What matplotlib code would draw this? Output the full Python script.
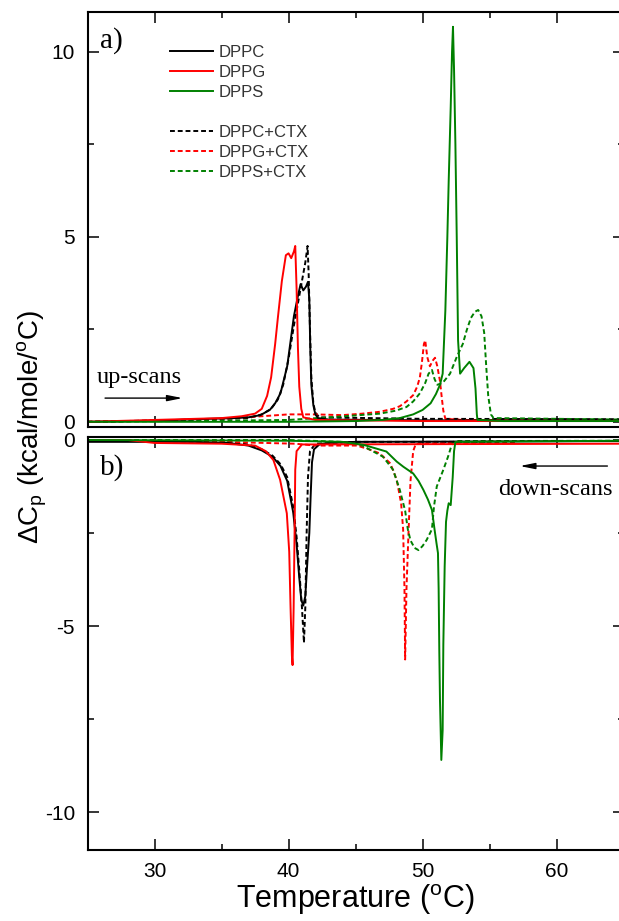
import matplotlib
matplotlib.use('Agg')
import matplotlib.pyplot as plt
from matplotlib.lines import Line2D
from matplotlib.ticker import MultipleLocator

plt.rcParams['font.family'] = ['Liberation Sans', 'DejaVu Sans']
plt.rcParams['mathtext.fontset'] = 'custom'
plt.rcParams['mathtext.rm'] = 'Liberation Sans'
plt.rcParams['mathtext.default'] = 'regular'
plt.rcParams['axes.unicode_minus'] = False

# ---- up-scans (panel a) ----
t_dppc_up = [25, 30, 34, 36, 37, 37.9, 38.6, 39.0, 39.4, 39.9, 40.4, 40.7, 40.9, 41.1, 41.3,
             41.45, 41.55, 41.62, 41.7, 41.85, 42.0, 42.2, 43, 50, 65]
cp_dppc_up = [0.0, 0.03, 0.08, 0.1, 0.12, 0.18, 0.32, 0.5, 0.77, 1.5, 2.85, 3.4, 3.72, 3.55, 3.65,
              3.78, 3.3, 2.0, 1.0, 0.45, 0.2, 0.1, 0.06, 0.04, 0.03]

t_dppg_up = [25, 30, 33, 35, 36.5, 37.5, 38.0, 38.4, 38.7, 39.0, 39.2, 39.5, 39.8, 40.0, 40.2,
             40.4, 40.5, 40.6, 40.7, 40.8, 40.95, 41.1, 42, 50, 65]
cp_dppg_up = [0.0, 0.05, 0.08, 0.1, 0.15, 0.22, 0.35, 0.7, 1.2, 2.1, 2.8, 3.8, 4.5, 4.55, 4.42,
              4.6, 4.75, 3.6, 2.0, 0.95, 0.35, 0.12, 0.05, 0.02, 0.02]

t_dpps_up = [25, 40, 45, 47, 48.3, 49.3, 50.0, 50.6, 51.0, 51.3, 51.5, 51.7, 51.85, 51.95, 52.1,
             52.2, 52.27, 52.35, 52.45, 52.55, 52.65, 52.8, 53.1, 53.5, 53.8, 53.95, 54.05, 54.1, 56, 65]
cp_dpps_up = [0.0, 0.0, 0.02, 0.05, 0.1, 0.2, 0.32, 0.5, 0.75, 1.0, 1.3, 3.0, 5.0, 6.5, 8.5,
              10.0, 10.67, 9.5, 7.5, 5.0, 2.2, 1.3, 1.45, 1.62, 1.45, 0.9, 0.2, 0.05, 0.02, 0.02]

t_dppc_ctx_up = [25, 32, 37, 38, 38.7, 39.2, 39.6, 40.0, 40.4, 40.7, 41.0, 41.25, 41.42, 41.5,
                 41.6, 41.7, 41.85, 42.0, 42.3, 50, 65]
cp_dppc_ctx_up = [0.0, 0.05, 0.1, 0.2, 0.35, 0.6, 1.0, 1.7, 2.6, 3.2, 3.8, 4.3, 4.75, 4.0,
                  2.5, 1.2, 0.5, 0.25, 0.12, 0.08, 0.07]

t_dppg_ctx_up = [25, 30, 35, 38, 40, 42, 44, 45.5, 46.8, 47.8, 48.3, 48.8, 49.3, 49.6, 49.8,
                 49.95, 50.1, 50.2, 50.35, 50.55, 50.75, 50.93, 51.1, 51.3, 51.45, 51.55, 51.7, 53, 65]
cp_dppg_ctx_up = [0.0, 0.03, 0.08, 0.15, 0.2, 0.2, 0.18, 0.22, 0.27, 0.35, 0.42, 0.55, 0.72, 0.95, 1.2,
                  1.6, 2.1, 2.2, 1.75, 1.5, 1.65, 1.73, 1.5, 1.1, 0.6, 0.3, 0.08, 0.05, 0.03]

t_dpps_ctx_up = [25, 35, 40, 43.8, 46.8, 48.0, 48.8, 49.3, 49.8, 50.2, 50.45, 50.7, 50.9, 51.1,
                 51.5, 52.05, 52.55, 53.0, 53.3, 53.6, 53.9, 54.15, 54.4, 54.6, 54.75, 54.9, 55.1,
                 55.3, 65]
cp_dpps_ctx_up = [0.0, 0.03, 0.05, 0.14, 0.22, 0.3, 0.4, 0.55, 0.77, 1.05, 1.3, 1.4, 1.15, 1.0,
                  1.05, 1.3, 1.75, 2.1, 2.48, 2.8, 2.97, 3.02, 2.85, 2.4, 1.5, 0.7, 0.2,
                  0.1, 0.06]

# ---- down-scans (panel b) ----
t_dppc_dn = [25, 33, 35.5, 37.0, 38.0, 38.8, 39.4, 39.9, 40.35, 40.6, 40.8, 40.95, 41.1, 41.25,
             41.4, 41.55, 41.65, 41.75, 41.9, 42.3, 43, 45, 65]
cp_dppc_dn = [-0.05, -0.05, -0.08, -0.15, -0.28, -0.45, -0.7, -1.1, -1.95, -2.8, -3.7, -4.3, -4.45, -4.2,
              -3.3, -2.5, -1.5, -0.6, -0.25, -0.12, -0.08, -0.05, -0.03]

t_dppg_dn = [25, 28, 30, 35, 37.5, 38.3, 38.87, 39.37, 39.87, 40.05, 40.15, 40.25, 40.3, 40.38,
             40.45, 40.5, 40.6, 41, 65]
cp_dppg_dn = [0.0, 0.0, -0.08, -0.1, -0.15, -0.3, -0.54, -1.07, -1.97, -3.0, -4.5, -5.8, -6.05, -4.5,
              -2.5, -0.8, -0.3, -0.12, -0.1]

t_dpps_dn = [25, 40, 44, 45.6, 47.3, 48.07, 48.57, 49.3, 49.7, 50.06, 50.4, 50.7, 50.9, 51.05,
             51.15, 51.2, 51.25, 51.3, 51.35, 51.4, 51.5, 51.55, 51.65, 51.75, 51.85, 51.95, 52.1,
             52.25, 52.35, 52.45, 65]
cp_dpps_dn = [0.0, -0.02, -0.05, -0.13, -0.31, -0.58, -0.72, -0.9, -1.1, -1.34, -1.6, -1.88, -2.42, -2.8,
              -3.04, -4.0, -5.7, -7.0, -7.8, -8.6, -7.8, -5.5, -3.4, -2.2, -1.9, -1.7, -1.75,
              -1.0, -0.3, -0.05, -0.02]

t_dppc_ctx_dn = [25, 35.5, 37.0, 38.0, 38.8, 39.4, 39.9, 40.35, 40.6, 40.8, 41.0, 41.15, 41.25,
                 41.35, 41.45, 41.6, 42.0, 45, 55]
cp_dppc_ctx_dn = [0.0, -0.05, -0.12, -0.25, -0.42, -0.65, -1.0, -1.8, -2.6, -3.5, -4.5, -5.45, -4.5,
                  -2.5, -1.0, -0.3, -0.1, -0.05, -0.05]

t_dppg_ctx_dn = [25, 35, 40.5, 42, 44, 45.1, 46.0, 46.8, 47.6, 48.07, 48.4, 48.55, 48.65, 48.7,
                 48.8, 48.95, 49.1, 49.3, 49.5, 52, 57]
cp_dppg_ctx_dn = [0.0, -0.05, -0.1, -0.15, -0.15, -0.15, -0.25, -0.36, -0.63, -1.07, -1.7, -2.4, -4.0, -5.9,
                  -4.0, -2.5, -1.1, -0.3, -0.1, -0.08, -0.08]

t_dpps_ctx_dn = [25, 40, 44, 45.5, 47.05, 47.8, 48.3, 48.7, 48.9, 49.1, 49.4, 49.7, 50.0, 50.3,
                 50.7, 50.85, 51.06, 51.55, 51.9, 52.2, 52.4, 65]
cp_dpps_ctx_dn = [0.0, 0.0, -0.05, -0.15, -0.45, -0.8, -1.34, -1.9, -2.4, -2.7, -2.9, -2.96, -2.85, -2.69,
                  -2.4, -1.8, -1.25, -0.8, -0.45, -0.1, -0.03, -0.02]

labels = ['DPPC', 'DPPG', 'DPPS', 'DPPC+CTX', 'DPPG+CTX', 'DPPS+CTX']
colors = ['black', 'red', 'green']

up_solid = [(t_dppc_up, cp_dppc_up), (t_dppg_up, cp_dppg_up), (t_dpps_up, cp_dpps_up)]
up_dash = [(t_dppc_ctx_up, cp_dppc_ctx_up), (t_dppg_ctx_up, cp_dppg_ctx_up), (t_dpps_ctx_up, cp_dpps_ctx_up)]
dn_solid = [(t_dppc_dn, cp_dppc_dn), (t_dppg_dn, cp_dppg_dn), (t_dpps_dn, cp_dpps_dn)]
dn_dash = [(t_dppc_ctx_dn, cp_dppc_ctx_dn), (t_dppg_ctx_dn, cp_dppg_ctx_dn), (t_dpps_ctx_dn, cp_dpps_ctx_dn)]

DASH = (0, (2.5, 1.5))
LW = 1.4

fig = plt.figure(figsize=(6.19, 9.21), dpi=100)
ax1 = fig.add_axes([0.1414, 0.5364, 0.866, 0.4506])
ax2 = fig.add_axes([0.1414, 0.0771, 0.866, 0.4484])

for c, (t, cp) in zip(colors, up_dash):
    ax1.plot(t, cp, color=c, lw=LW, linestyle=DASH)
for c, (t, cp) in zip(colors, up_solid):
    ax1.plot(t, cp, color=c, lw=LW)
for c, (t, cp) in zip(colors, dn_dash):
    ax2.plot(t, cp, color=c, lw=LW, linestyle=DASH)
for c, (t, cp) in zip(colors, dn_solid):
    ax2.plot(t, cp, color=c, lw=LW)

ax1.set_ylim(-0.14, 11.07)
ax2.set_ylim(-11.02, 0.08)

for ax in (ax1, ax2):
    ax.set_xlim(25, 65)
    ax.xaxis.set_major_locator(MultipleLocator(10))
    ax.xaxis.set_minor_locator(MultipleLocator(5))
    ax.yaxis.set_major_locator(MultipleLocator(5))
    ax.yaxis.set_minor_locator(MultipleLocator(2.5))
    ax.tick_params(which='both', direction='in', top=True, right=True, labelsize=15, width=1.1, pad=9)
    ax.tick_params(which='major', length=8)
    ax.tick_params(which='minor', length=4.5)
    for sp in ax.spines.values():
        sp.set_linewidth(1.5)
ax1.tick_params(labelbottom=False)

# legend
handles = [Line2D([], [], color=c, lw=LW) for c in colors]
handles.append(Line2D([], [], color='none'))
handles += [Line2D([], [], color=c, lw=LW, linestyle=DASH) for c in colors]
leg_labels = labels[:3] + [' '] + labels[3:]
ax1.legend(handles, leg_labels, loc='upper left', bbox_to_anchor=(0.154, 0.921),
           frameon=False, fontsize=12, handlelength=2.6, handletextpad=0.3,
           labelspacing=0.3, borderpad=0, borderaxespad=0, labelcolor='#333333')

ax1.text(0.023, 0.93, 'a)', transform=ax1.transAxes, family='Liberation Serif',
         fontsize=21, ha='left', va='center')
ax2.text(0.023, 0.925, 'b)', transform=ax2.transAxes, family='Liberation Serif',
         fontsize=21, ha='left', va='center')

ax1.text(25.7, 1.05, 'up-scans', family='Liberation Serif', fontsize=17.5, ha='left', va='baseline')
ax1.annotate('', xy=(32.3, 0.64), xytext=(26.1, 0.64),
             arrowprops=dict(arrowstyle='-|>,head_length=0.9,head_width=0.18', color='black', lw=1))
ax2.text(64.2, -1.48, 'down-scans', family='Liberation Serif', fontsize=17.5, ha='right', va='baseline')
ax2.annotate('', xy=(57.05, -0.7), xytext=(64.0, -0.7),
             arrowprops=dict(arrowstyle='-|>,head_length=0.9,head_width=0.18', color='black', lw=1))

fig.text(355 / 619, 1 - 900 / 921, r'Temperature ($^o$C)', fontsize=22, ha='center', va='center')
fig.text(32 / 619, 1 - 427 / 921, r'$\Delta$C$_p$ (kcal/mole/$^o$C)', fontsize=20,
         rotation=90, ha='center', va='center')

fig.savefig('out.png', dpi=100)
